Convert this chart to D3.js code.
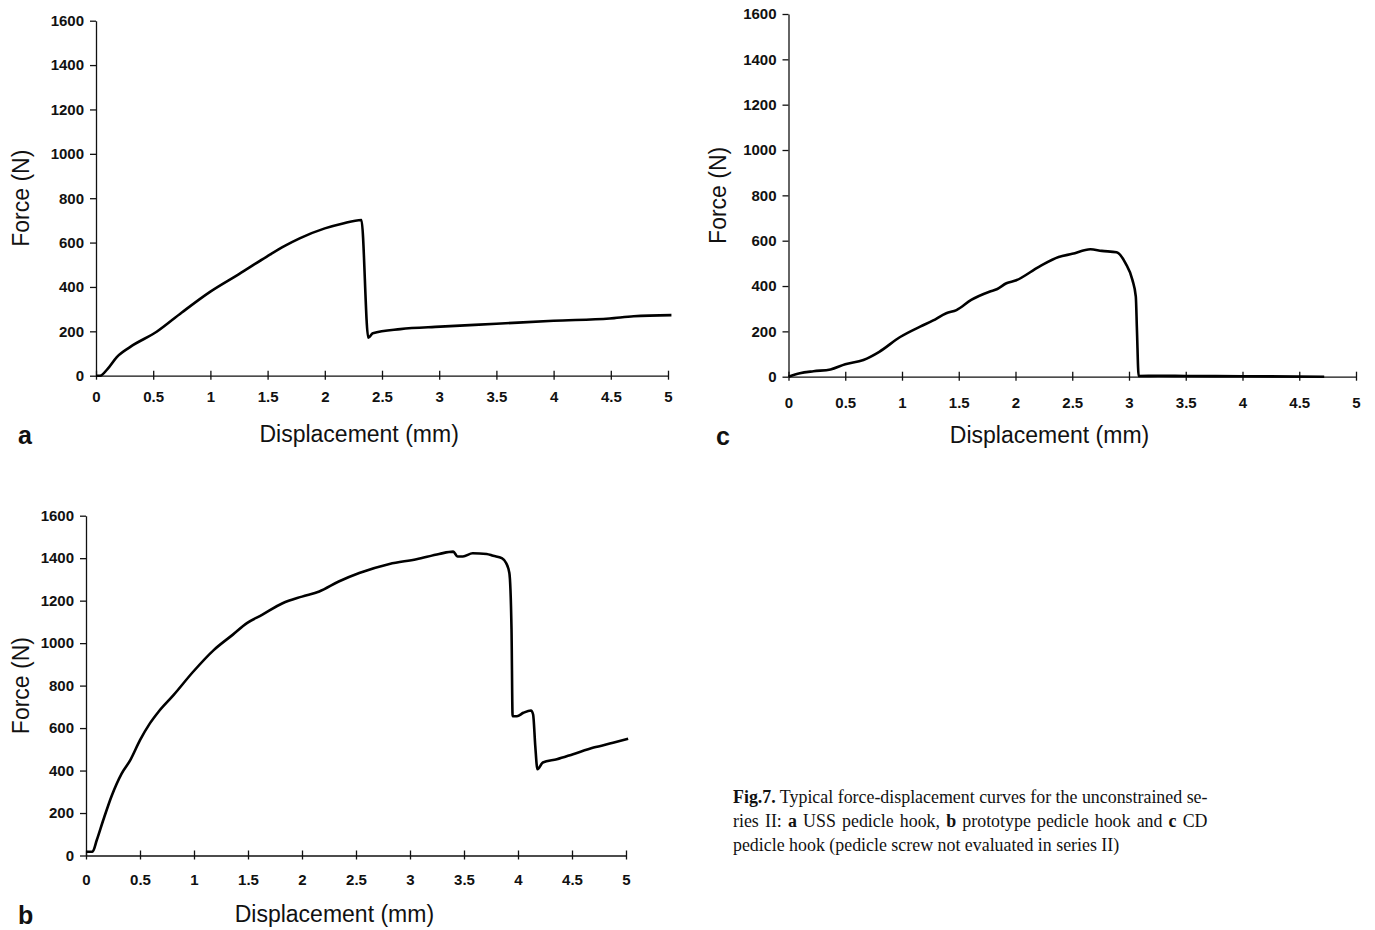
<!DOCTYPE html>
<meta charset="utf-8">
<style>
  body { margin: 0; background: #fff; }
  svg text { fill: #111; }
  .tick text { font-family: 'Liberation Sans', Arial, sans-serif; font-weight: bold; font-size: 15px; }
  .title { font-family: 'Liberation Sans', Arial, sans-serif; font-size: 23px; }
  .letter { font-family: 'Liberation Sans', Arial, sans-serif; font-size: 25px; font-weight: bold; }
  .caption { font-family: 'Liberation Serif', 'Times New Roman', serif; font-size: 19px; }
  .curve { fill: none; stroke: #000; stroke-width: 2.6px; stroke-linejoin: round; }
  .domain, .tick line { stroke: #111; stroke-width: 1.3px; }
</style>
<body>
<script src="https://cdn.jsdelivr.net/npm/d3@7"></script>
<script>

// displacement (mm), force (N)
var curveA = [[0,0],[0.035,0],[0.1,30],[0.18,83],[0.3,130],[0.53,198],[0.75,285],[1.0,379],
  [1.25,458],[1.49,536],[1.65,585],[1.78,619],[2.0,664],[2.15,685],[2.32,702],[2.38,171],
  [2.42,191],[2.66,210],[3.01,221],[3.5,234],[4.0,248],[4.49,258],[4.7,268],[5.03,273]];

var curveB = [[0,18],[0.06,18],[0.1,73],[0.16,167],[0.24,284],[0.33,386],[0.41,449],[0.5,543],
  [0.59,621],[0.67,676],[0.81,755],[0.99,864],[1.18,966],[1.36,1040],[1.49,1094],[1.63,1133],
  [1.82,1188],[2.0,1219],[2.16,1243],[2.34,1290],[2.53,1330],[2.81,1373],[3.06,1395],[3.27,1420],
  [3.4,1431],[3.44,1408],[3.49,1408],[3.58,1423],[3.71,1420],[3.77,1411],[3.85,1400],[3.89,1377],
  [3.92,1330],[3.94,1063],[3.95,656],[3.99,656],[4.05,672],[4.12,683],[4.14,664],[4.16,515],
  [4.18,406],[4.23,438],[4.36,453],[4.51,477],[4.7,508],[4.88,531],[5.02,550]];

var curveC = [[0,0],[0.1,15],[0.22,24],[0.37,32],[0.5,55],[0.66,74],[0.8,110],[0.98,174],
  [1.16,221],[1.27,247],[1.39,280],[1.48,294],[1.61,339],[1.77,375],[1.84,387],[1.92,412],
  [2.0,424],[2.21,486],[2.38,528],[2.5,542],[2.66,562],[2.76,555],[2.89,549],[2.97,500],
  [3.03,427],[3.06,353],[3.07,206],[3.085,3],[3.26,4],[3.5,3],[4.0,2],[4.72,0]];

var xTicks = [0, 0.5, 1, 1.5, 2, 2.5, 3, 3.5, 4, 4.5, 5];
var yTicks = [0, 200, 400, 600, 800, 1000, 1200, 1400, 1600];
var xTitle = "Displacement (mm)";
var yTitle = "Force (N)";

var captionLines = [
  [["Fig.7.", true], [" Typical force-displacement curves for the unconstrained se-", false]],
  [["ries II: ", false], ["a", true], [" USS pedicle hook, ", false], ["b", true],
   [" prototype pedicle hook and ", false], ["c", true], [" CD", false]],
  [["pedicle hook (pedicle screw not evaluated in series II)", false]]
];

// panel frames in page pixels
var panels = [
  {letter: "a", data: curveA, x0: 96, x1: 668, y0: 375.7, y1: 20.7, letterX: 18, labelDy: 21, titleDx: 75},
  {letter: "c", data: curveC, x0: 788.5, x1: 1356, y0: 376.7, y1: 14, letterX: 716, labelDy: 26, titleDx: 71},
  {letter: "b", data: curveB, x0: 86, x1: 626, y0: 855.5, y1: 515.7, letterX: 18, labelDy: 24, titleDx: 65}
];

var svg = d3.select("body").append("svg")
    .attr("width", 1375)
    .attr("height", 930);

panels.forEach(function(p) {
  var x = d3.scaleLinear().domain([0, 5]).range([p.x0, p.x1]);
  var y = d3.scaleLinear().domain([0, 1600]).range([p.y0, p.y1]);
  var g = svg.append("g");

  // x axis, ticks cross the line
  var gx = g.append("g")
      .attr("transform", "translate(0," + p.y0 + ")")
      .call(d3.axisBottom(x).tickValues(xTicks).tickFormat(d3.format("")).tickSizeOuter(0));
  gx.selectAll(".tick line").attr("y1", -5).attr("y2", 4);
  gx.selectAll(".tick text").attr("y", p.labelDy).attr("dy", "0.35em");

  // y axis
  g.append("g")
      .attr("transform", "translate(" + p.x0 + ",0)")
      .call(d3.axisLeft(y).tickValues(yTicks).tickFormat(d3.format("d"))
        .tickSize(6).tickPadding(6).tickSizeOuter(0));

  g.append("path")
      .datum(p.data)
      .attr("class", "curve")
      .attr("d", d3.line()
        .curve(d3.curveMonotoneX)
        .x(function(d) { return x(d[0]); })
        .y(function(d) { return y(d[1]); }));

  g.append("text")
      .attr("class", "title")
      .attr("x", x(2.3))
      .attr("y", p.y0 + 58)
      .attr("dy", "0.35em")
      .attr("text-anchor", "middle")
      .text(xTitle);

  g.append("text")
      .attr("class", "title")
      .attr("transform", "translate(" + (p.x0 - p.titleDx) + "," + y(800) + ") rotate(-90)")
      .attr("dy", "0.35em")
      .attr("text-anchor", "middle")
      .text(yTitle);

  g.append("text")
      .attr("class", "letter")
      .attr("x", p.letterX)
      .attr("y", p.y0 + 68)
      .text(p.letter);
});

// caption: printed type is narrow, so squeeze horizontally; line 2 justified with word spacing
var capWidth = 475;
var cap = svg.append("g").attr("class", "caption");
var rows = captionLines.map(function(line, i) {
  var t = cap.append("text");
  line.forEach(function(part) {
    t.append("tspan")
      .style("font-weight", part[1] ? "bold" : "normal")
      .text(part[0]);
  });
  return t;
});
var squeeze = capWidth / rows[0].node().getComputedTextLength();
var w2 = rows[1].node().getComputedTextLength();
var gaps = rows[1].text().split(" ").length - 1;
rows[1].style("word-spacing", ((capWidth / squeeze - w2) / gaps) + "px");
rows.forEach(function(t, i) {
  t.attr("transform", "translate(733," + (803 + i * 24) + ") scale(" + squeeze + ",1)");
});

</script>
</body>
